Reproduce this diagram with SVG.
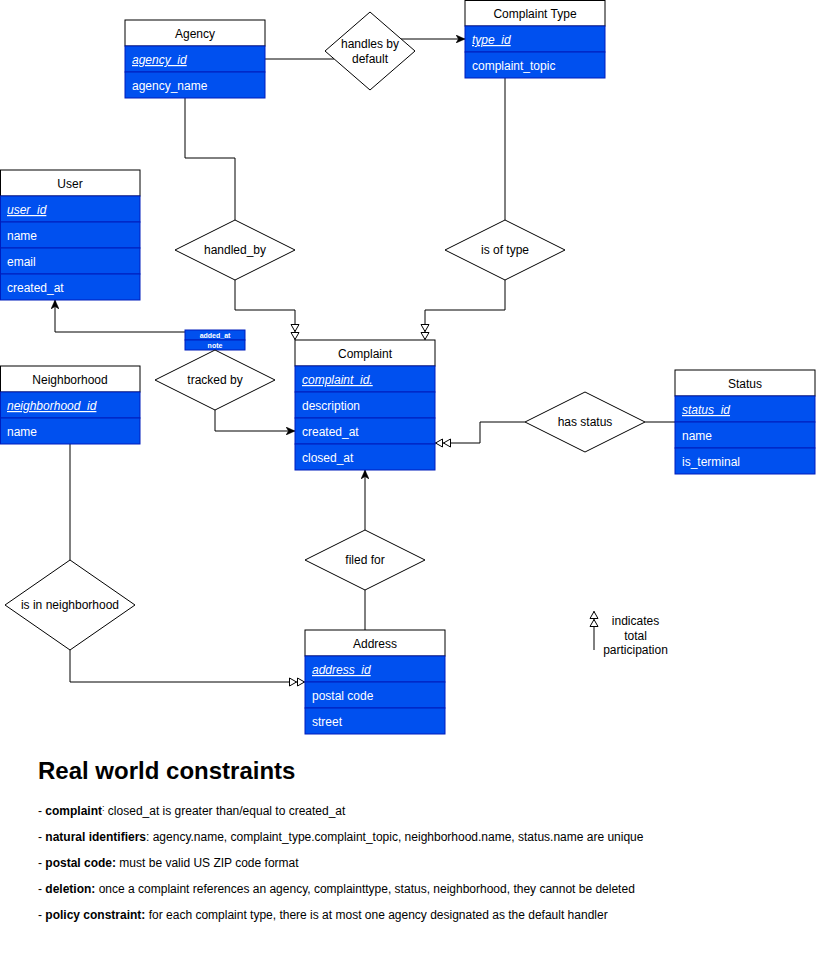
<svg xmlns="http://www.w3.org/2000/svg" width="817" height="964" viewBox="0 0 817 964">
<style>
text{font-family:"Liberation Sans",Arial,Helvetica,sans-serif;font-size:12px}
.hd{fill:#fff;stroke:#000;stroke-width:1}
.row{fill:#0050ef;stroke:#001dbc;stroke-width:1}
.ht{fill:#000;text-anchor:middle}
.rt{fill:#fff}
.pk{fill:#fff;font-style:italic;text-decoration:underline}
.dia{fill:#fff;stroke:#000;stroke-width:1}
.dt{fill:#000;text-anchor:middle}
.ln{fill:none;stroke:#000;stroke-width:1}
.lbl{fill:#fff;font-size:7px;font-weight:bold;text-anchor:middle}
.ct{fill:#000}
</style>
<defs>
<marker id="filled" viewBox="0 0 10 8" refX="9" refY="4" markerWidth="10" markerHeight="8" markerUnits="userSpaceOnUse" orient="auto">
<path d="M0,0 L9,4 L0,8 L2.5,4 Z" fill="#000" stroke="#000" stroke-width="0.5"/>
</marker>
<marker id="total" viewBox="0 0 17 10" refX="16" refY="5" markerWidth="17" markerHeight="10" markerUnits="userSpaceOnUse" orient="auto">
<path d="M0.5,1 L7.5,5 L0.5,9 Z M8.5,1 L15.5,5 L8.5,9 Z" fill="#fff" stroke="#000" stroke-width="1"/>
</marker>
</defs>
<rect width="817" height="964" fill="#fff"/>

<g id="connectors">
<polyline class="ln" points="265,59 334,59"/>
<polyline class="ln" points="401,39 465,39" marker-end="url(#filled)"/>
<polyline class="ln" points="185,98 185,158 235,158 235,220"/>
<polyline class="ln" points="505,78 505,220"/>
<polyline class="ln" points="235,280 235,310 295,310 295,340" marker-end="url(#total)"/>
<polyline class="ln" points="505,280 505,310 425,310 425,340" marker-end="url(#total)"/>
<polyline class="ln" points="215,350 215,332 55,332 55,300" marker-end="url(#filled)"/>
<polyline class="ln" points="215,410 215,431 295,431" marker-end="url(#filled)"/>
<polyline class="ln" points="675,422 645,422"/>
<polyline class="ln" points="525,422 480,422 480,443 435,443" marker-end="url(#total)"/>
<polyline class="ln" points="70,444 70,560"/>
<polyline class="ln" points="70,650 70,682 305,682" marker-end="url(#total)"/>
<polyline class="ln" points="365,630 365,590"/>
<polyline class="ln" points="365,530 365,470" marker-end="url(#filled)"/>
<g id="tracked-label">
<rect class="row" x="185" y="330" width="60" height="10"/>
<rect class="row" x="185" y="340" width="60" height="10"/>
<text class="lbl" x="215" y="338">added_at</text>
<text class="lbl" x="215" y="348">note</text>
</g>
</g>

<g id="agency">
<rect class="hd" x="125" y="20" width="140" height="26"/>
<rect class="row" x="125" y="46" width="140" height="26"/>
<rect class="row" x="125" y="72" width="140" height="26"/>
<text class="ht" x="195" y="38">Agency</text>
<text class="pk" x="132" y="64">agency_id</text>
<text class="rt" x="132" y="90">agency_name</text>
</g>

<g id="complaint-type">
<rect class="hd" x="465" y="0.5" width="140" height="25.5"/>
<rect class="row" x="465" y="26" width="140" height="26"/>
<rect class="row" x="465" y="52" width="140" height="26"/>
<text class="ht" x="535" y="18">Complaint Type</text>
<text class="pk" x="472" y="44">type_id</text>
<text class="rt" x="472" y="70">complaint_topic</text>
</g>

<g id="user">
<rect class="hd" x="0.5" y="170" width="139.5" height="26"/>
<rect class="row" x="0.5" y="196" width="139.5" height="26"/>
<rect class="row" x="0.5" y="222" width="139.5" height="26"/>
<rect class="row" x="0.5" y="248" width="139.5" height="26"/>
<rect class="row" x="0.5" y="274" width="139.5" height="26"/>
<text class="ht" x="70" y="188">User</text>
<text class="pk" x="7" y="214">user_id</text>
<text class="rt" x="7" y="240">name</text>
<text class="rt" x="7" y="266">email</text>
<text class="rt" x="7" y="292">created_at</text>
</g>

<g id="complaint">
<rect class="hd" x="295" y="340" width="140" height="26"/>
<rect class="row" x="295" y="366" width="140" height="26"/>
<rect class="row" x="295" y="392" width="140" height="26"/>
<rect class="row" x="295" y="418" width="140" height="26"/>
<rect class="row" x="295" y="444" width="140" height="26"/>
<text class="ht" x="365" y="358">Complaint</text>
<text class="pk" x="302" y="384">complaint_id.</text>
<text class="rt" x="302" y="410">description</text>
<text class="rt" x="302" y="436">created_at</text>
<text class="rt" x="302" y="462">closed_at</text>
</g>

<g id="status">
<rect class="hd" x="675" y="370" width="140" height="26"/>
<rect class="row" x="675" y="396" width="140" height="26"/>
<rect class="row" x="675" y="422" width="140" height="26"/>
<rect class="row" x="675" y="448" width="140" height="26"/>
<text class="ht" x="745" y="388">Status</text>
<text class="pk" x="682" y="414">status_id</text>
<text class="rt" x="682" y="440">name</text>
<text class="rt" x="682" y="466">is_terminal</text>
</g>

<g id="neighborhood">
<rect class="hd" x="0.5" y="366" width="139.5" height="26"/>
<rect class="row" x="0.5" y="392" width="139.5" height="26"/>
<rect class="row" x="0.5" y="418" width="139.5" height="26"/>
<text class="ht" x="70" y="384">Neighborhood</text>
<text class="pk" x="7" y="410">neighborhood_id</text>
<text class="rt" x="7" y="436">name</text>
</g>

<g id="address">
<rect class="hd" x="305" y="630" width="140" height="26"/>
<rect class="row" x="305" y="656" width="140" height="26"/>
<rect class="row" x="305" y="682" width="140" height="26"/>
<rect class="row" x="305" y="708" width="140" height="26"/>
<text class="ht" x="375" y="648">Address</text>
<text class="pk" x="312" y="674">address_id </text>
<text class="rt" x="312" y="700">postal code</text>
<text class="rt" x="312" y="726">street</text>
</g>

<g id="handles-by-default">
<polygon class="dia" points="370,12 415,51 370,90 325,51"/>
<text class="dt" x="370" y="48">handles by</text>
<text class="dt" x="370" y="63">default</text>
</g>
<g id="handled-by">
<polygon class="dia" points="235,220 295,250 235,280 175,250"/>
<text class="dt" x="235" y="254">handled_by</text>
</g>
<g id="is-of-type">
<polygon class="dia" points="505,220 565,250 505,280 445,250"/>
<text class="dt" x="505" y="254">is of type</text>
</g>
<g id="tracked-by">
<polygon class="dia" points="215,350 275,380 215,410 155,380"/>
<text class="dt" x="215" y="384">tracked by</text>
</g>
<g id="has-status">
<polygon class="dia" points="585,392 645,422 585,452 525,422"/>
<text class="dt" x="585" y="426">has status</text>
</g>
<g id="filed-for">
<polygon class="dia" points="365,530 425,560 365,590 305,560"/>
<text class="dt" x="365" y="564">filed for</text>
</g>
<g id="is-in-neighborhood">
<polygon class="dia" points="70,560 135,605 70,650 5,605"/>
<text class="dt" x="70" y="609">is in neighborhood</text>
</g>

<g id="legend">
<polyline class="ln" points="594,650 594,611" marker-end="url(#total)"/>
<text class="dt" x="635.5" y="625">indicates</text>
<text class="dt" x="635.5" y="640">total</text>
<text class="dt" x="635.5" y="654">participation</text>
</g>

<g id="constraints">
<text class="ct" x="38" y="779" style="font-size:24px;font-weight:bold">Real world constraints</text>
<text class="ct" x="38" y="815">- <tspan font-weight="bold">complaint</tspan><tspan font-size="9" dy="-4">:</tspan><tspan dy="4"> closed_at is greater than/equal to created_at</tspan></text>
<text class="ct" x="38" y="841">- <tspan font-weight="bold">natural identifiers</tspan>: agency.name, complaint_type.complaint_topic, neighborhood.name, status.name are unique</text>
<text class="ct" x="38" y="867">- <tspan font-weight="bold">postal code:</tspan> must be valid US ZIP code format</text>
<text class="ct" x="38" y="893">- <tspan font-weight="bold">deletion:</tspan> once a complaint references an agency, complainttype, status, neighborhood, they cannot be deleted</text>
<text class="ct" x="38" y="919">- <tspan font-weight="bold">policy constraint:</tspan> for each complaint type, there is at most one agency designated as the default handler</text>
</g>
</svg>
